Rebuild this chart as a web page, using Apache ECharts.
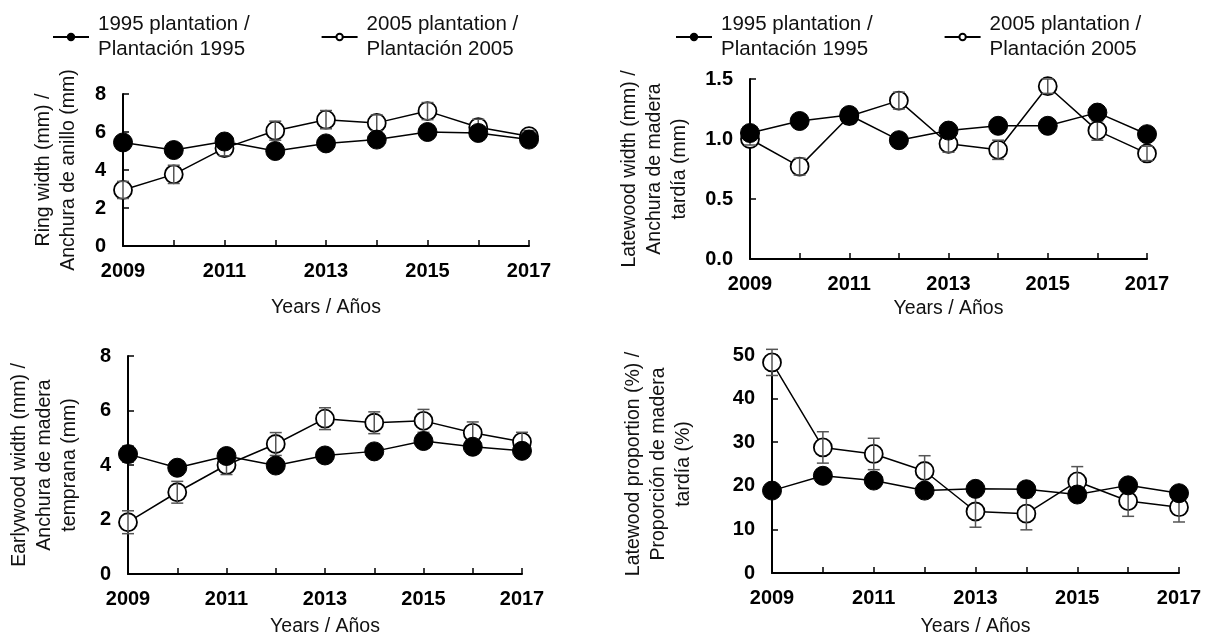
<!DOCTYPE html>
<html>
<head>
<meta charset="utf-8">
<script src="https://cdn.jsdelivr.net/npm/echarts@6/dist/echarts.min.js"></script>
<style>
html,body{margin:0;padding:0;background:#fff;}
#chart{width:1206px;height:638px;}
</style>
</head>
<body>
<div id="chart"></div>
<script>
// ---- data ----
var years = ['2009','2010','2011','2012','2013','2014','2015','2016','2017'];
var name1995 = '1995 plantation /\nPlantación 1995';
var name2005 = '2005 plantation /\nPlantación 2005';

var ring1995 = [5.45, 5.05, 5.5, 5.0, 5.4, 5.6, 6.0, 5.95, 5.6];
var ring2005 = [2.95, 3.77, 5.15, 6.07, 6.65, 6.48, 7.1, 6.25, 5.78];
var ringErr1995 = [0.2, 0.2, 0.2, 0.2, 0.2, 0.2, 0.2, 0.2, 0.2];
var ringErr2005 = [0.45, 0.48, 0.4, 0.5, 0.48, 0.42, 0.45, 0.42, 0.3];

var late1995 = [1.05, 1.15, 1.2, 0.99, 1.07, 1.11, 1.11, 1.22, 1.04];
var late2005 = [1.0, 0.77, 1.19, 1.32, 0.96, 0.91, 1.44, 1.07, 0.88];
var lateErr1995 = [0.03, 0.03, 0.03, 0.03, 0.03, 0.03, 0.03, 0.03, 0.03];
var lateErr2005 = [0.05, 0.07, 0.05, 0.07, 0.07, 0.08, 0.06, 0.08, 0.06];

var early1995 = [4.4, 3.9, 4.33, 3.98, 4.35, 4.5, 4.88, 4.67, 4.52];
var early2005 = [1.9, 3.0, 4.0, 4.77, 5.7, 5.55, 5.62, 5.18, 4.85];
var earlyErr1995 = [0.3, 0.25, 0.25, 0.25, 0.25, 0.25, 0.25, 0.25, 0.25];
var earlyErr2005 = [0.42, 0.4, 0.35, 0.42, 0.4, 0.4, 0.42, 0.4, 0.35];

var prop1995 = [18.9, 22.3, 21.2, 18.9, 19.3, 19.2, 18.0, 20.1, 18.3];
var prop2005 = [48.3, 28.8, 27.3, 23.4, 14.1, 13.6, 21.0, 16.5, 15.1];
var propErr1995 = [1.2, 1.2, 1.2, 1.2, 1.2, 1.5, 1.2, 1.2, 1.2];
var propErr2005 = [3.0, 3.6, 3.6, 3.5, 3.6, 3.7, 3.4, 3.5, 3.4];

var yNames = [
  'Ring width (mm) /\nAnchura de anillo (mm)',
  'Latewood width (mm) /\nAnchura de madera\ntardía (mm)',
  'Earlywood width (mm) /\nAnchura de madera\ntemprana (mm)',
  'Latewood proportion (%) /\nProporción de madera\ntardía (%)'
];
var xName = 'Years / Años';
var yRanges = [[0, 8, 2], [0, 1.5, 0.5], [0, 8, 2], [0, 50, 10]];

// ---- layout ----
var FN = "'Liberation Sans', Arial, sans-serif";
var FB = "'Liberation Sans', Arial, sans-serif";
var grids = [
  {left: 123, top: 94, width: 406, height: 152},
  {left: 750, top: 79, width: 397, height: 180},
  {left: 128, top: 356, width: 394, height: 220},
  {left: 772, top: 355, width: 407, height: 220}
];
var xNameGaps = [52, 40, 43, 44];
var yNameGaps = [42, 58, 46, 76];

var panels = [
  [ring1995, ring2005, ringErr1995, ringErr2005],
  [late1995, late2005, lateErr1995, lateErr2005],
  [early1995, early2005, earlyErr1995, earlyErr2005],
  [prop1995, prop2005, propErr1995, propErr2005]
];

var xAxes = [], yAxes = [], series = [];
grids.forEach(function (g, i) {
  xAxes.push({
    type: 'category', gridIndex: i, data: years, boundaryGap: false,
    axisLine: {lineStyle: {color: '#000', width: 2}},
    axisTick: {inside: true, length: 6, lineStyle: {color: '#000', width: 1.5}, interval: 0},
    axisLabel: {interval: 1, color: '#000', fontFamily: FB, fontWeight: 'bold', fontSize: 20, margin: 15},
    splitLine: {show: false},
    name: xName, nameLocation: 'middle', nameGap: xNameGaps[i],
    nameTextStyle: {fontFamily: FN, fontSize: 19.5, color: '#111'}
  });
  var r = yRanges[i];
  yAxes.push({
    type: 'value', gridIndex: i, min: r[0], max: r[1], interval: r[2],
    axisLine: {show: true, lineStyle: {color: '#000', width: 2}},
    axisTick: {show: true, inside: true, length: 6, lineStyle: {color: '#000', width: 1.5}},
    axisLabel: {color: '#000', fontFamily: FB, fontWeight: 'bold', fontSize: 20, margin: 17,
      formatter: i === 1 ? function (v) { return v.toFixed(1); } : '{value}'},
    splitLine: {show: false},
    name: yNames[i], nameLocation: 'middle', nameGap: yNameGaps[i], nameRotate: 90,
    nameTextStyle: {fontFamily: FN, fontSize: 19.5, lineHeight: 25, color: '#111'}
  });
});

function errSeries(idx, vals, errs, z) {
  var data = vals.map(function (v, k) { return [k, v - errs[k], v + errs[k]]; });
  return {
    type: 'custom', xAxisIndex: idx, yAxisIndex: idx, z: z, silent: true,
    data: data,
    renderItem: function (params, api) {
      var x = api.value(0);
      var lo = api.coord([x, api.value(1)]);
      var hi = api.coord([x, api.value(2)]);
      var hw = 6;
      var st = {stroke: '#555', lineWidth: 1.5, fill: null};
      return {type: 'group', children: [
        {type: 'line', shape: {x1: lo[0], y1: lo[1], x2: hi[0], y2: hi[1]}, style: st},
        {type: 'line', shape: {x1: lo[0] - hw, y1: lo[1], x2: lo[0] + hw, y2: lo[1]}, style: st},
        {type: 'line', shape: {x1: hi[0] - hw, y1: hi[1], x2: hi[0] + hw, y2: hi[1]}, style: st}
      ]};
    }
  };
}

panels.forEach(function (p, i) {
  series.push({
    name: name2005, type: 'line', xAxisIndex: i, yAxisIndex: i, data: p[1], z: 2,
    symbol: 'circle', symbolSize: 18, showAllSymbol: true,
    lineStyle: {color: '#000', width: 1.5},
    itemStyle: {color: '#fff', borderColor: '#000', borderWidth: 1.8},
    emphasis: {disabled: true}, animation: false
  });
  series.push(errSeries(i, p[1], p[3], 3));
  series.push(errSeries(i, p[0], p[2], 4));
  series.push({
    name: name1995, type: 'line', xAxisIndex: i, yAxisIndex: i, data: p[0], z: 5,
    symbol: 'circle', symbolSize: 19, showAllSymbol: true,
    lineStyle: {color: '#000', width: 1.5},
    itemStyle: {color: '#000', borderColor: '#000', borderWidth: 1},
    emphasis: {disabled: true}, animation: false
  });
});

var legendBase = {
  selectedMode: false, orient: 'horizontal', padding: 0,
  itemWidth: 36, itemHeight: 8, itemGap: 71,
  textStyle: {fontFamily: FN, fontSize: 20.5, lineHeight: 25, color: '#111', padding: [0, 0, 0, 4]},
  data: [name1995, name2005]
};
var legends = [
  Object.assign({}, legendBase, {left: 52, top: 12}),
  Object.assign({}, legendBase, {left: 675, top: 12})
];

var chart = echarts.init(document.getElementById('chart'), null, {renderer: 'canvas'});
chart.setOption({
  animation: false,
  backgroundColor: '#fff',
  legend: legends,
  grid: grids,
  xAxis: xAxes,
  yAxis: yAxes,
  series: series
});
</script>
</body>
</html>
